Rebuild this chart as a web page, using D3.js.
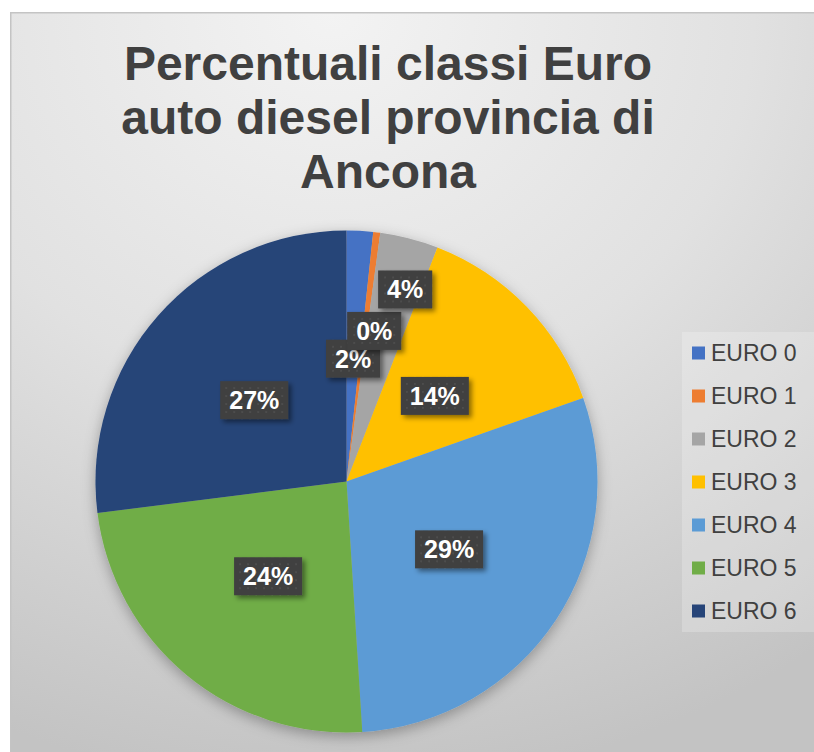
<!DOCTYPE html>
<html>
<head>
<meta charset="utf-8">
<script src="https://cdn.jsdelivr.net/npm/d3@7"></script>
<style>
  body { margin: 0; background: #fff; }
  svg { display: block; font-family: 'Liberation Sans', Arial, sans-serif; }
</style>
</head>
<body>
<svg id="chart"></svg>
<script>
/* global d3 */
const categories = ['EURO 0', 'EURO 1', 'EURO 2', 'EURO 3', 'EURO 4', 'EURO 5', 'EURO 6']
const values = [1.7, 0.45, 3.75, 13.7, 29.4, 24.0, 27.0]
const colors = ['#4472C4', '#ED7D31', '#A5A5A5', '#FFC000', '#5B9BD5', '#70AD47', '#264478']
const titleLines = ['Percentuali classi Euro', 'auto diesel provincia di', 'Ancona']

// label placement (excel "best fit"): radius fraction and angle nudge in degrees
const labelRadius = [0.49, 0.61, 0.8, 0.49, 0.49, 0.49, 0.49]
const labelNudge = [0, 3.5, 2.5, 0, 0, 0, 0]

const width = 814
const height = 752
const frame = { x: 10, y: 12 }
const pieCenter = { x: 346.5, y: 481.5 }
const radius = 251

const svg = d3.select('#chart').attr('width', width).attr('height', height)
const defs = svg.append('defs')

/** background gradient */
const bg = defs.append('radialGradient')
  .attr('id', 'bg')
  .attr('cx', 0.4).attr('cy', 0).attr('r', 1.05)
bg.append('stop').attr('offset', 0).attr('stop-color', '#f3f3f3')
bg.append('stop').attr('offset', 0.5).attr('stop-color', '#e1e1e1')
bg.append('stop').attr('offset', 1).attr('stop-color', '#c3c3c3')

/** shadows */
const pieShadow = defs.append('filter').attr('id', 'pieShadow')
  .attr('x', -0.2).attr('y', -0.2).attr('width', 1.4).attr('height', 1.4)
pieShadow.append('feDropShadow')
  .attr('dx', 0).attr('dy', 4).attr('stdDeviation', 7)
  .attr('flood-color', '#000').attr('flood-opacity', 0.3)

const boxShadow = defs.append('filter').attr('id', 'boxShadow')
  .attr('x', -0.3).attr('y', -0.3).attr('width', 1.6).attr('height', 1.6)
boxShadow.append('feDropShadow')
  .attr('dx', 3).attr('dy', 3).attr('stdDeviation', 2.5)
  .attr('flood-color', '#000').attr('flood-opacity', 0.45)

/** dotted texture of the label boxes */
const dots = defs.append('pattern').attr('id', 'dots')
  .attr('width', 8).attr('height', 8).attr('patternUnits', 'userSpaceOnUse')
dots.append('rect').attr('width', 8).attr('height', 8).attr('fill', '#3f3f3f')
dots.append('rect').attr('x', 3).attr('y', 3).attr('width', 2).attr('height', 2).attr('fill', '#4d4d4d')

/** chart area */
svg.append('rect')
  .attr('x', frame.x).attr('y', frame.y)
  .attr('width', width - frame.x).attr('height', height - frame.y)
  .attr('fill', 'url(#bg)')
svg.append('path')
  .attr('d', `M${frame.x + 0.75},${height}V${frame.y + 0.75}H${width}`)
  .attr('fill', 'none').attr('stroke', '#c4c4c4').attr('stroke-width', 1.5)

/** title */
svg.append('text')
  .attr('text-anchor', 'middle')
  .attr('font-size', 48).attr('font-weight', 'bold').attr('fill', '#404040')
  .selectAll('tspan')
  .data(titleLines)
  .enter()
  .append('tspan')
  .attr('x', 388)
  .attr('y', (d, i) => 80 + i * 54)
  .text(d => d)

/** pie */
const pie = d3.pie().sort(null).value(d => d)
const arcs = pie(values)
const arc = d3.arc().innerRadius(0).outerRadius(radius)
const total = d3.sum(values)

const g = svg.append('g').attr('transform', `translate(${pieCenter.x},${pieCenter.y})`)
g.append('g')
  .attr('filter', 'url(#pieShadow)')
  .selectAll('path')
  .data(arcs)
  .enter()
  .append('path')
  .attr('d', arc)
  .attr('fill', (d, i) => colors[i])

/** data labels */
const labels = g.selectAll('g.label')
  .data(arcs)
  .enter()
  .append('g')
  .attr('class', 'label')
  .attr('transform', (d, i) => {
    const a = (d.startAngle + d.endAngle) / 2 + labelNudge[i] * Math.PI / 180
    const r = radius * labelRadius[i]
    return `translate(${r * Math.sin(a)},${-r * Math.cos(a)})`
  })

labels.append('text')
  .attr('text-anchor', 'middle')
  .attr('dy', '0.36em')
  .attr('font-size', 25).attr('font-weight', 'bold').attr('fill', '#fff')
  .text(d => `${Math.round(d.value / total * 100)}%`)

labels.each(function () {
  const grp = d3.select(this)
  const bb = grp.select('text').node().getBBox()
  grp.insert('rect', 'text')
    .attr('x', -bb.width / 2 - 9)
    .attr('y', -19)
    .attr('width', bb.width + 18)
    .attr('height', 38)
    .attr('fill', 'url(#dots)')
    .attr('filter', 'url(#boxShadow)')
})

/** legend */
const legend = svg.append('g').attr('transform', 'translate(682,332)')
legend.append('rect')
  .attr('width', 132).attr('height', 300)
  .attr('fill', '#fff').attr('opacity', 0.22)

const item = legend.selectAll('g.item')
  .data(categories)
  .enter()
  .append('g')
  .attr('class', 'item')
  .attr('transform', (d, i) => `translate(0,${21 + i * 43})`)
item.append('rect')
  .attr('x', 10).attr('y', -6.5)
  .attr('width', 13).attr('height', 13)
  .attr('fill', (d, i) => colors[i])
item.append('text')
  .attr('x', 29).attr('dy', '0.36em')
  .attr('font-size', 23).attr('fill', '#404040')
  .text(d => d)
</script>
</body>
</html>
